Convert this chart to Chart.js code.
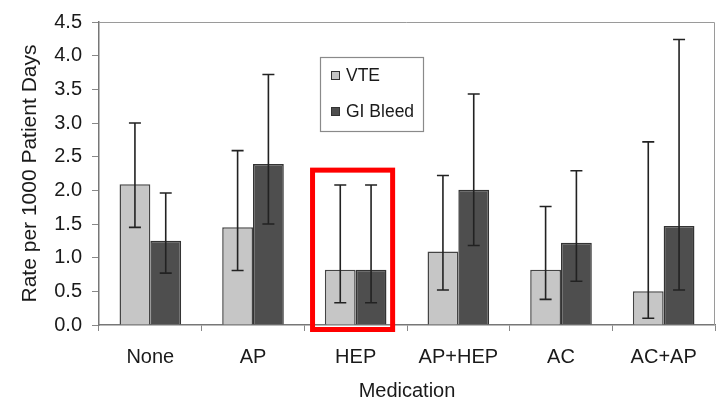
<!DOCTYPE html>
<html>
<head>
<meta charset="utf-8">
<script src="https://cdn.jsdelivr.net/npm/chart.js@4.4.1/dist/chart.umd.min.js"></script>
<style>
  html, body { margin: 0; padding: 0; background: #fff; }
  #wrap { width: 716px; height: 403px; position: relative; }
</style>
</head>
<body>
<div id="wrap"><canvas id="chart"></canvas></div>
<script>
// ===========================
// Data — rates per 1000 patient days
// ===========================
const categories = ['None', 'AP', 'HEP', 'AP+HEP', 'AC', 'AC+AP'];

const vteRate = [2.09, 1.45, 0.82, 1.09, 0.82, 0.50];
const vteLow  = [1.45, 0.81, 0.33, 0.52, 0.38, 0.10];
const vteHigh = [3.00, 2.59, 2.08, 2.22, 1.76, 2.72];

const giRate  = [1.25, 2.39, 0.82, 2.01, 1.22, 1.47];
const giLow   = [0.77, 1.50, 0.33, 1.18, 0.65, 0.52];
const giHigh  = [1.96, 3.72, 2.08, 3.43, 2.29, 4.24];

const yTicks = [0, 0.5, 1.0, 1.5, 2.0, 2.5, 3.0, 3.5, 4.0, 4.5];

// highlighted category (red box) and its top value
const highlightIndex = 2;
const highlightTop = 2.3;

const FONT = "'Liberation Sans', Arial, sans-serif";

// ===========================
// Plugins
// ===========================
const errorBars = {
  id: 'errorBars',
  afterDatasetsDraw(chart) {
    const { ctx } = chart;
    const y = chart.scales.y;
    const ranges = [[vteLow, vteHigh], [giLow, giHigh]];
    ctx.save();
    ctx.strokeStyle = '#222';
    ctx.lineWidth = 1.6;
    ranges.forEach(([lo, hi], di) => {
      chart.getDatasetMeta(di).data.forEach((bar, i) => {
        const x = bar.x;
        const yl = y.getPixelForValue(lo[i]);
        const yh = y.getPixelForValue(hi[i]);
        ctx.beginPath();
        ctx.moveTo(x, yl); ctx.lineTo(x, yh);
        ctx.moveTo(x - 6, yh); ctx.lineTo(x + 6, yh);
        ctx.moveTo(x - 6, yl); ctx.lineTo(x + 6, yl);
        ctx.stroke();
      });
    });
    ctx.restore();
  }
};

const frame = {
  id: 'frame',
  beforeDatasetsDraw(chart) {
    const { ctx, chartArea: a } = chart;
    ctx.save();
    ctx.strokeStyle = '#9a9a9a';
    ctx.lineWidth = 1;
    ctx.beginPath();
    ctx.moveTo(a.left, a.top + 0.5); ctx.lineTo(a.right - 0.5, a.top + 0.5);
    ctx.lineTo(a.right - 0.5, a.bottom);
    ctx.stroke();
    ctx.restore();
  }
};

const boxLegend = {
  id: 'boxLegend',
  afterDraw(chart) {
    const { ctx, chartArea: a } = chart;
    const x0 = a.left + 221, y0 = a.top + 35, w = 103, h = 74;
    ctx.save();
    ctx.fillStyle = '#fff';
    ctx.fillRect(x0, y0, w, h);
    ctx.strokeStyle = '#8a8a8a';
    ctx.lineWidth = 1.2;
    ctx.strokeRect(x0 + 0.5, y0 + 0.5, w, h);
    const items = chart.data.datasets;
    ctx.font = '17.5px ' + FONT;
    ctx.textBaseline = 'middle';
    items.forEach((ds, i) => {
      const cy = y0 + 18 + i * 36;
      ctx.fillStyle = ds.backgroundColor;
      ctx.fillRect(x0 + 11, cy - 4, 8, 8);
      ctx.strokeStyle = '#333';
      ctx.lineWidth = 1;
      ctx.strokeRect(x0 + 11.5, cy - 3.5, 8, 8);
      ctx.fillStyle = '#1a1a1a';
      ctx.fillText(ds.label, x0 + 26, cy + 1);
    });
    ctx.restore();
  }
};

const highlightBox = {
  id: 'highlightBox',
  afterDraw(chart) {
    const { ctx, chartArea: a } = chart;
    const x = chart.scales.x;
    const y = chart.scales.y;
    const cx = x.getPixelForValue(highlightIndex);
    const cw = (a.right - a.left) / categories.length;
    const left = cx - cw * 0.42;
    const right = cx + cw * 0.36;
    const top = y.getPixelForValue(highlightTop);
    const bottom = a.bottom + 4.5;
    ctx.save();
    ctx.strokeStyle = '#ff0000';
    ctx.lineWidth = 5;
    ctx.strokeRect(left, top, right - left, bottom - top);
    ctx.restore();
  }
};

// ===========================
// Chart
// ===========================
const ctx = document.getElementById('chart').getContext('2d');
new Chart(ctx, {
  type: 'bar',
  data: {
    labels: categories,
    datasets: [
      {
        label: 'VTE',
        data: vteRate,
        backgroundColor: '#c6c6c6',
        borderColor: '#444',
        borderWidth: 1.5,
        borderSkipped: 'bottom',
        categoryPercentage: 0.6,
        barPercentage: 1.0,
      },
      {
        label: 'GI Bleed',
        data: giRate,
        backgroundColor: '#4e4e4e',
        borderColor: '#333',
        borderWidth: 1.5,
        borderSkipped: 'bottom',
        categoryPercentage: 0.6,
        barPercentage: 1.0,
      }
    ]
  },
  options: {
    responsive: true,
    maintainAspectRatio: false,
    animation: false,
    layout: { padding: { top: 19, right: 1, left: 0, bottom: 0 } },
    plugins: {
      legend: { display: false },
      tooltip: { enabled: false }
    },
    scales: {
      x: {
        offset: true,
        afterFit: s => { s.height = 78; },
        grid: {
          offset: true,
          drawOnChartArea: false,
          drawTicks: true,
          tickLength: 6,
          color: '#888',
        },
        border: { display: true, color: '#777', width: 1.5 },
        ticks: {
          color: '#1a1a1a',
          padding: 14,
          font: { family: FONT, size: 20 },
          maxRotation: 0,
        },
        title: {
          display: true,
          text: 'Medication',
          color: '#1a1a1a',
          font: { family: FONT, size: 20 },
          padding: { top: 0, bottom: 0 },
        }
      },
      y: {
        min: 0,
        max: 4.5,
        afterFit: s => { s.width = 99; },
        afterBuildTicks: s => { s.ticks = yTicks.map(v => ({ value: v })); },
        grid: {
          drawOnChartArea: false,
          drawTicks: true,
          tickLength: 7,
          color: '#888',
        },
        border: { display: true, color: '#777', width: 1.5 },
        ticks: {
          color: '#1a1a1a',
          padding: 10,
          font: { family: FONT, size: 20 },
          callback: v => Number(v).toFixed(1),
        },
        title: {
          display: true,
          text: 'Rate per 1000 Patient Days',
          color: '#1a1a1a',
          font: { family: FONT, size: 21 },
          padding: { top: 18, bottom: 0 },
        }
      }
    }
  },
  plugins: [frame, errorBars, boxLegend, highlightBox]
});
</script>
</body>
</html>
